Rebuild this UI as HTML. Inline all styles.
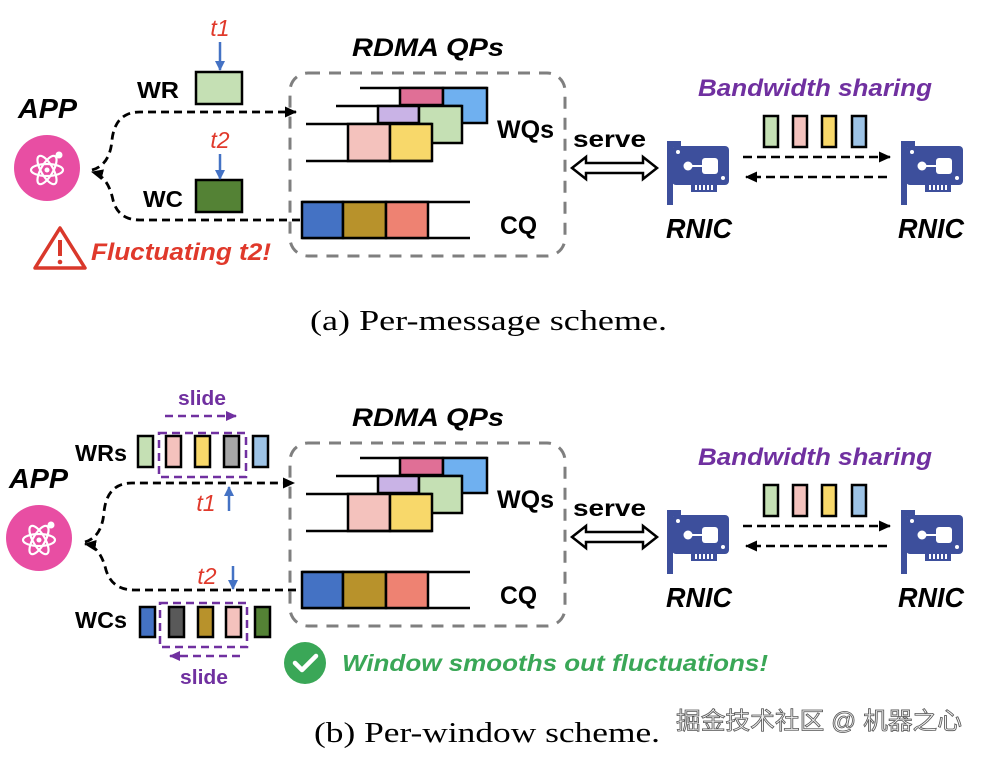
<!DOCTYPE html>
<html><head><meta charset="utf-8"><style>
html,body{margin:0;padding:0;background:#fff;}
svg{display:block;}
.b{font-family:"Liberation Sans",sans-serif;font-weight:bold;}
.bi{font-family:"Liberation Sans",sans-serif;font-weight:bold;font-style:italic;}
.i{font-family:"Liberation Sans",sans-serif;font-style:italic;}
.s{font-family:"Liberation Serif",serif;}
</style></head><body>
<svg width="984" height="758" viewBox="0 0 984 758" xmlns="http://www.w3.org/2000/svg">
<defs>
<marker id="ah" markerWidth="12" markerHeight="11" refX="11" refY="5.5" orient="auto" markerUnits="userSpaceOnUse"><path d="M0,0 L12,5.5 L0,11 z" fill="#000"/></marker>
<marker id="ahp" markerWidth="11" markerHeight="10" refX="10" refY="5" orient="auto" markerUnits="userSpaceOnUse"><path d="M0,0 L11,5 L0,10 z" fill="#7030a0"/></marker>
<marker id="ahb" markerWidth="10" markerHeight="10" refX="9" refY="5" orient="auto" markerUnits="userSpaceOnUse"><path d="M0,0 L10,5 L0,10 z" fill="#4472c4"/></marker>
<g id="nic">
<rect x="0" y="0" width="6" height="64" fill="#3d4f9c"/>
<rect x="0" y="0" width="14" height="6" fill="#3d4f9c"/>
<rect x="5" y="5" width="57" height="39" rx="4" fill="#3d4f9c"/>
<rect x="24" y="42" width="26" height="9" fill="#3d4f9c"/>
<g fill="#fff"><rect x="28" y="44" width="2" height="5"/><rect x="32" y="44" width="2" height="5"/><rect x="36" y="44" width="2" height="5"/><rect x="40" y="44" width="2" height="5"/><rect x="44" y="44" width="2" height="5"/>
<circle cx="21" cy="25" r="4.5"/><rect x="21" y="24" width="16" height="2"/><rect x="35" y="17" width="16" height="16" rx="3"/><circle cx="11" cy="11" r="2"/><circle cx="56" cy="37" r="2"/></g>
</g>
<g id="app">
<circle cx="0" cy="0" r="33" fill="#e84ea3"/>
<g fill="none" stroke="#fff" stroke-width="2.2">
<ellipse cx="0" cy="2" rx="16" ry="6"/>
<ellipse cx="0" cy="2" rx="16" ry="6" transform="rotate(60 0 2)"/>
<ellipse cx="0" cy="2" rx="16" ry="6" transform="rotate(-60 0 2)"/>
</g>
<circle cx="0" cy="2" r="2.5" fill="#fff"/><circle cx="12" cy="-13" r="3.5" fill="#fff"/>
</g>
<g id="qp" stroke="#000" stroke-width="2.5">
<rect x="290" y="73" width="275" height="183" rx="18" fill="none" stroke="#7f7f7f" stroke-width="3" stroke-dasharray="12,9"/>
<line x1="360" y1="88" x2="487" y2="88"/>
<rect x="400" y="88" width="43" height="17" fill="#e06f96"/>
<rect x="443" y="88" width="44" height="35" fill="#6fb0f0"/>
<line x1="336" y1="106" x2="462" y2="106"/>
<rect x="378" y="106" width="41" height="17" fill="#c9b3e6"/>
<rect x="419" y="106" width="43" height="37" fill="#c5e0b4"/>
<line x1="306" y1="124" x2="432" y2="124"/>
<rect x="348" y="124" width="42" height="37" fill="#f4c2bd"/>
<rect x="390" y="124" width="42" height="37" fill="#f8d86a"/>
<line x1="306" y1="161" x2="432" y2="161"/>
<line x1="302" y1="202" x2="470" y2="202"/>
<line x1="302" y1="238" x2="470" y2="238"/>
<rect x="302" y="202" width="41" height="36" fill="#4472c4"/>
<rect x="343" y="202" width="43" height="36" fill="#b8922b"/>
<rect x="386" y="202" width="42" height="36" fill="#ee8272"/>
<text x="352" y="56" class="bi" font-size="25" stroke="none" fill="#000" textLength="152" lengthAdjust="spacingAndGlyphs">RDMA QPs</text>
<text x="497" y="138" class="b" font-size="25" stroke="none" fill="#000" textLength="57" lengthAdjust="spacingAndGlyphs">WQs</text>
<text x="500" y="234" class="b" font-size="25" stroke="none" fill="#000" textLength="37" lengthAdjust="spacingAndGlyphs">CQ</text>
</g>
<g id="right">
<text x="573" y="147" class="b" font-size="23" fill="#000" textLength="73" lengthAdjust="spacingAndGlyphs">serve</text>
<path d="M572,168 L586,157 L586,163 L643,163 L643,157 L657,168 L643,179 L643,173 L586,173 L586,179 Z" fill="#fff" stroke="#000" stroke-width="2.5" stroke-linejoin="miter"/>
<use href="#nic" x="667" y="141"/>
<use href="#nic" x="901" y="141"/>
<text x="666" y="238" class="bi" font-size="28" fill="#000" textLength="66" lengthAdjust="spacingAndGlyphs">RNIC</text>
<text x="898" y="238" class="bi" font-size="28" fill="#000" textLength="66" lengthAdjust="spacingAndGlyphs">RNIC</text>
<text x="698" y="96" class="bi" font-size="24" fill="#7030a0" textLength="234" lengthAdjust="spacingAndGlyphs">Bandwidth sharing</text>
<g stroke="#000" stroke-width="2.5">
<rect x="764" y="116" width="14" height="31" fill="#c5e0b4"/>
<rect x="793" y="116" width="14" height="31" fill="#f4c2bd"/>
<rect x="822" y="116" width="14" height="31" fill="#f8d86a"/>
<rect x="852" y="116" width="14" height="31" fill="#9dc3e6"/>
<line x1="743" y1="157" x2="890" y2="157" stroke-dasharray="9,5" marker-end="url(#ah)"/>
<line x1="887" y1="177" x2="746" y2="177" stroke-dasharray="9,5" marker-end="url(#ah)"/>
</g>
</g>
</defs>

<!-- Panel A -->
<use href="#qp"/>
<use href="#right"/>
<use href="#app" x="47" y="168"/>
<text x="18" y="118" class="bi" font-size="28" textLength="59" lengthAdjust="spacingAndGlyphs">APP</text>
<text x="137" y="98" class="b" font-size="23" textLength="42" lengthAdjust="spacingAndGlyphs">WR</text>
<text x="143" y="207" class="b" font-size="23" textLength="40" lengthAdjust="spacingAndGlyphs">WC</text>
<rect x="196" y="72" width="46" height="32" fill="#c5e0b4" stroke="#000" stroke-width="2.5"/>
<rect x="196" y="180" width="46" height="32" fill="#548235" stroke="#000" stroke-width="2.5"/>
<text x="220" y="36" class="i" font-size="23" fill="#e0392b" text-anchor="middle">t1</text>
<line x1="220" y1="42" x2="220" y2="70" stroke="#4472c4" stroke-width="2.5" marker-end="url(#ahb)"/>
<text x="220" y="148" class="i" font-size="23" fill="#e0392b" text-anchor="middle">t2</text>
<line x1="220" y1="154" x2="220" y2="179" stroke="#4472c4" stroke-width="2.5" marker-end="url(#ahb)"/>
<g fill="none" stroke="#000" stroke-width="2.8" stroke-dasharray="8,5">
<path d="M92,170 Q110,165 112,140 Q115,112 140,112 L296,112" marker-end="url(#ah)"/>
<path d="M300,220 L140,220 Q118,220 113,200 Q108,176 92,172" marker-end="url(#ah)"/>
</g>
<path d="M35,268 L60,228 L85,268 Z" fill="none" stroke="#d9382b" stroke-width="3.5" stroke-linejoin="round"/>
<rect x="58" y="240" width="4" height="16" fill="#d9382b"/><circle cx="60" cy="262" r="2.3" fill="#d9382b"/>
<text x="91" y="260" class="bi" font-size="24" fill="#e0392b" textLength="180" lengthAdjust="spacingAndGlyphs">Fluctuating t2!</text>
<text x="310" y="330" class="s" font-size="29" textLength="357" lengthAdjust="spacingAndGlyphs">(a)  Per-message scheme.</text>

<!-- Panel B -->
<g transform="translate(0,370)"><use href="#qp"/></g>
<g transform="translate(0,369)"><use href="#right"/></g>
<use href="#app" x="39" y="538"/>
<text x="9" y="488" class="bi" font-size="28" textLength="59" lengthAdjust="spacingAndGlyphs">APP</text>
<text x="75" y="461" class="b" font-size="23" textLength="52" lengthAdjust="spacingAndGlyphs">WRs</text>
<text x="75" y="628" class="b" font-size="23" textLength="52" lengthAdjust="spacingAndGlyphs">WCs</text>
<g stroke="#000" stroke-width="2.5">
<rect x="138" y="436" width="15" height="31" fill="#c5e0b4"/>
<rect x="166" y="436" width="15" height="31" fill="#f4c2bd"/>
<rect x="195" y="436" width="15" height="31" fill="#f8d86a"/>
<rect x="224" y="436" width="15" height="31" fill="#a6a6a6"/>
<rect x="253" y="436" width="15" height="31" fill="#9dc3e6"/>
<rect x="140" y="607" width="15" height="30" fill="#4472c4"/>
<rect x="169" y="607" width="15" height="30" fill="#595959"/>
<rect x="198" y="607" width="15" height="30" fill="#b8922b"/>
<rect x="226" y="607" width="15" height="30" fill="#f4c2bd"/>
<rect x="255" y="607" width="15" height="30" fill="#548235"/>
</g>
<g fill="none" stroke="#7030a0" stroke-width="2.5" stroke-dasharray="8,5">
<rect x="159" y="433" width="87" height="44"/>
<rect x="160" y="603" width="87" height="44"/>
<line x1="165" y1="416" x2="236" y2="416" marker-end="url(#ahp)"/>
<line x1="240" y1="656" x2="170" y2="656" marker-end="url(#ahp)"/>
</g>
<text x="202" y="405" class="b" font-size="20" fill="#7030a0" text-anchor="middle" textLength="48" lengthAdjust="spacingAndGlyphs">slide</text>
<text x="204" y="684" class="b" font-size="20" fill="#7030a0" text-anchor="middle" textLength="48" lengthAdjust="spacingAndGlyphs">slide</text>
<g fill="none" stroke="#000" stroke-width="2.8" stroke-dasharray="8,5">
<path d="M85,542 Q102,537 104,512 Q107,483 132,483 L294,483" marker-end="url(#ah)"/>
<path d="M296,590 L134,590 Q112,590 106,570 Q100,546 85,544" marker-end="url(#ah)"/>
</g>
<text x="206" y="511" class="i" font-size="23" fill="#e0392b" text-anchor="middle">t1</text>
<line x1="229" y1="511" x2="229" y2="487" stroke="#4472c4" stroke-width="2.5" marker-end="url(#ahb)"/>
<text x="207" y="584" class="i" font-size="23" fill="#e0392b" text-anchor="middle">t2</text>
<line x1="233" y1="566" x2="233" y2="589" stroke="#4472c4" stroke-width="2.5" marker-end="url(#ahb)"/>
<circle cx="305" cy="663" r="21" fill="#3aa757"/>
<path d="M295,663 L302,670 L316,656" fill="none" stroke="#fff" stroke-width="4.5" stroke-linecap="round" stroke-linejoin="round"/>
<text x="342" y="671" class="bi" font-size="23" fill="#3aa757" textLength="426" lengthAdjust="spacingAndGlyphs">Window smooths out fluctuations!</text>
<text x="314" y="742" class="s" font-size="29" textLength="346" lengthAdjust="spacingAndGlyphs">(b)  Per-window scheme.</text>
<text x="676" y="729" font-family="'Liberation Sans','Noto Sans CJK SC',sans-serif" font-size="24" fill="#f2f2f2" stroke="#555" stroke-width="0.8" textLength="286" lengthAdjust="spacingAndGlyphs">掘金技术社区 @ 机器之心</text>
</svg>
</body></html>
